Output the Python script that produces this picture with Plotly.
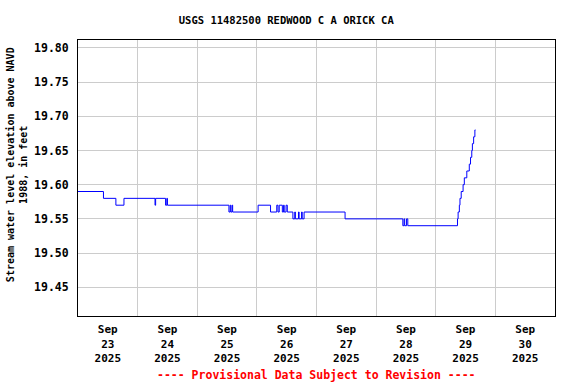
import plotly.graph_objects as go

# Breakpoints of the step series (time, gage height in ft)
times = [
    "2025-09-23 00:00", "2025-09-23 10:15", "2025-09-23 15:15", "2025-09-23 18:30",
    "2025-09-24 07:00", "2025-09-24 07:15", "2025-09-24 11:15", "2025-09-24 11:45",
    "2025-09-24 12:00", "2025-09-25 12:45", "2025-09-25 13:15", "2025-09-25 13:30",
    "2025-09-25 14:00", "2025-09-25 14:15", "2025-09-26 00:30", "2025-09-26 05:30",
    "2025-09-26 08:00", "2025-09-26 08:30", "2025-09-26 09:00", "2025-09-26 10:15",
    "2025-09-26 10:45", "2025-09-26 11:00", "2025-09-26 11:45", "2025-09-26 12:15",
    "2025-09-26 14:30", "2025-09-26 15:15", "2025-09-26 15:30", "2025-09-26 16:45",
    "2025-09-26 17:00", "2025-09-26 18:00", "2025-09-26 18:15", "2025-09-26 19:00",
    "2025-09-27 11:30", "2025-09-28 10:45", "2025-09-28 11:15", "2025-09-28 11:30",
    "2025-09-28 12:15", "2025-09-28 12:45", "2025-09-29 08:45", "2025-09-29 09:00",
    "2025-09-29 09:30", "2025-09-29 09:45", "2025-09-29 10:15", "2025-09-29 11:00",
    "2025-09-29 11:30", "2025-09-29 12:30", "2025-09-29 13:30", "2025-09-29 14:00",
    "2025-09-29 14:30", "2025-09-29 14:45", "2025-09-29 15:15", "2025-09-29 15:45",
    "2025-09-29 16:00",
]
levels = [
    19.59, 19.58, 19.57, 19.58,
    19.57, 19.58, 19.57, 19.58,
    19.57, 19.56, 19.57, 19.56,
    19.57, 19.56, 19.57, 19.56,
    19.57, 19.56, 19.57, 19.56,
    19.57, 19.56, 19.57, 19.56,
    19.55, 19.56, 19.55, 19.56,
    19.55, 19.56, 19.55, 19.56,
    19.55, 19.54, 19.55, 19.54,
    19.55, 19.54, 19.55, 19.56,
    19.57, 19.58, 19.59, 19.60,
    19.61, 19.62, 19.63, 19.64,
    19.65, 19.66, 19.67, 19.68,
    19.68,
]

tick_dates = ["2025-09-23 12:00", "2025-09-24 12:00", "2025-09-25 12:00", "2025-09-26 12:00",
              "2025-09-27 12:00", "2025-09-28 12:00", "2025-09-29 12:00", "2025-09-30 12:00"]
tick_labels = ["Sep<br>23<br>2025", "Sep<br>24<br>2025", "Sep<br>25<br>2025", "Sep<br>26<br>2025",
               "Sep<br>27<br>2025", "Sep<br>28<br>2025", "Sep<br>29<br>2025", "Sep<br>30<br>2025"]
y_ticks = [19.45, 19.50, 19.55, 19.60, 19.65, 19.70, 19.75, 19.80]
y_labels = ["19.45", "19.50", "19.55", "19.60", "19.65", "19.70", "19.75", "19.80"]

FONT = "DejaVu Sans Mono"

fig = go.Figure()
fig.add_trace(go.Scatter(x=times, y=levels, mode="lines",
                         line=dict(color="#0000ff", width=1, shape="hv"),
                         showlegend=False, hoverinfo="skip"))

fig.update_layout(
    width=576, height=384,
    margin=dict(l=78, r=21, t=40, b=68),
    paper_bgcolor="white", plot_bgcolor="white",
    title=dict(text="USGS 11482500 REDWOOD C A ORICK CA", x=0.497, xanchor="center",
               y=0.948, yanchor="middle",
               font=dict(family=FONT, size=10.5, color="black", weight="bold")),
    xaxis=dict(
        range=["2025-09-23 00:00", "2025-10-01 00:00"],
        tickmode="array", tickvals=tick_dates, ticktext=tick_labels,
        showgrid=False, ticks="",
        ticklabelstandoff=3,
        tickfont=dict(family=FONT, size=11, color="black", weight="bold"),
        showline=True, linecolor="black", linewidth=1, mirror=True,
        minor=dict(dtick=86400000, tick0="2025-09-23", showgrid=True,
                   gridcolor="#cccccc", gridwidth=1, ticks=""),
        zeroline=False,
    ),
    yaxis=dict(
        range=[19.408, 19.8115],
        tickmode="array", tickvals=y_ticks, ticktext=y_labels,
        showgrid=True, gridcolor="#cccccc", gridwidth=1, ticks="",
        ticklabelstandoff=6,
        tickfont=dict(family=FONT, size=11.5, color="black", weight="bold"),
        showline=True, linecolor="black", linewidth=1, mirror=True,
        zeroline=False,
    ),
    annotations=[
        dict(text="Stream water level elevation above NAVD<br>1988, in feet",
             xref="paper", yref="paper", x=-0.128, y=0.55, xanchor="center", yanchor="middle",
             textangle=-90, showarrow=False,
             font=dict(family=FONT, size=10, color="black", weight="bold")),
        dict(text="---- Provisional Data Subject to Revision ----",
             xref="paper", yref="paper", x=0.499, y=-0.212, xanchor="center", yanchor="middle",
             showarrow=False,
             font=dict(family=FONT, size=11.5, color="red", weight="bold")),
    ],
)

fig.write_html("out.html", config={"displayModeBar": False},
               post_script="document.body.style.margin='0';document.body.style.padding='0';")
